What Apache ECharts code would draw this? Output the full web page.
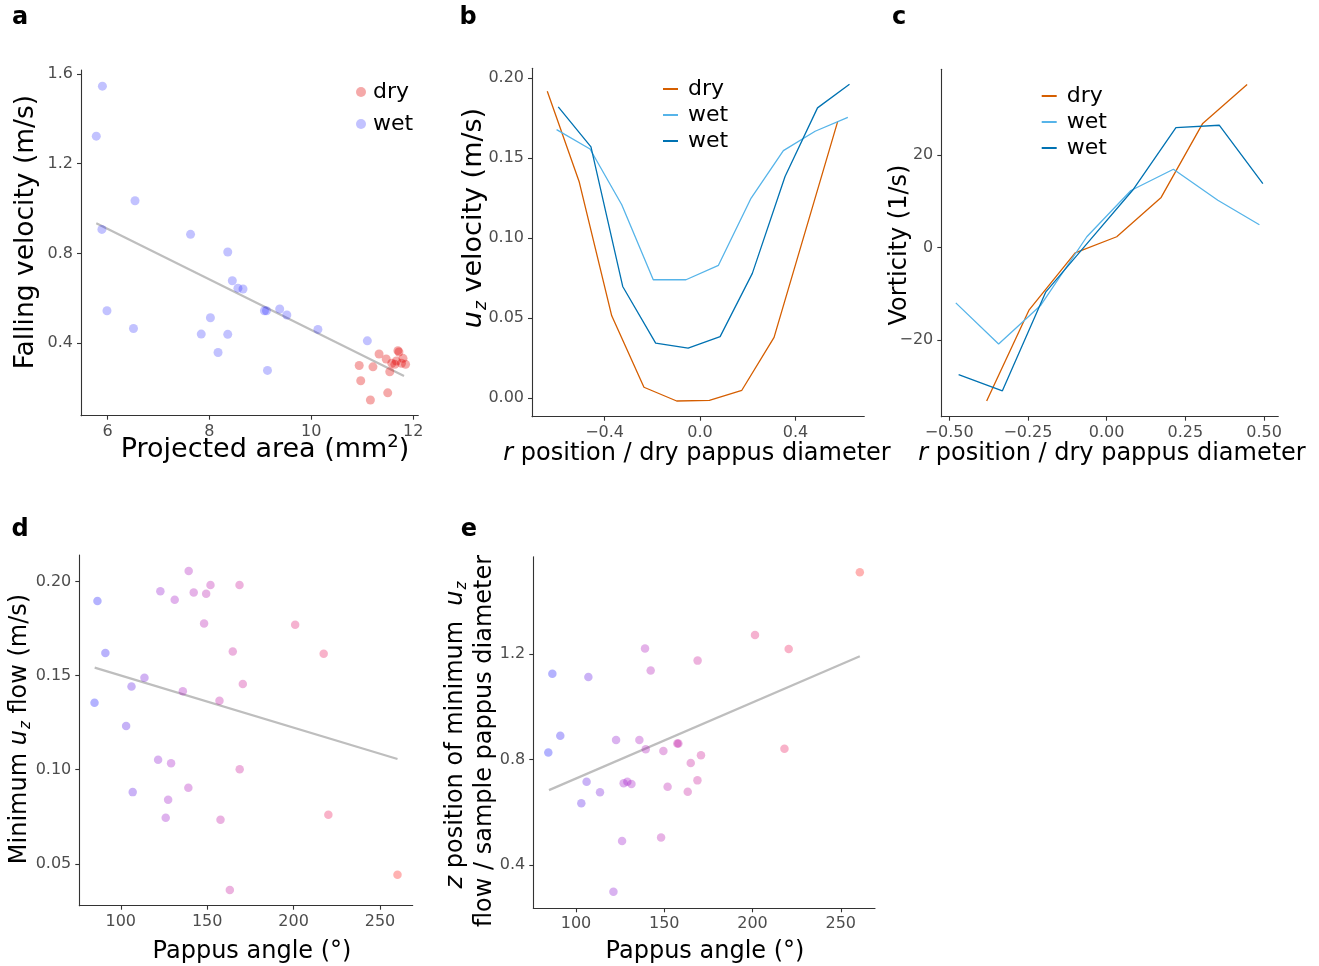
<!DOCTYPE html>
<html>
<head>
<meta charset="utf-8">
<script src="https://cdn.jsdelivr.net/npm/echarts@6/dist/echarts.min.js"></script>
<style>
html,body{margin:0;padding:0;background:#fff;}
#chart{width:1319px;height:966px;}
</style>
</head>
<body>
<div id="chart"></div>
<script>
// ---------- DATA ----------
// Panel a: falling velocity vs projected area
const aWetX = [5.90,5.78,6.54,5.89,7.63,8.36,8.45,8.56,8.66,5.99,9.08,9.12,9.38,9.52,6.51,8.02,7.84,8.36,8.17,10.13,11.10,9.14];
const aWetY = [1.546,1.323,1.035,0.907,0.885,0.806,0.678,0.645,0.641,0.544,0.544,0.544,0.552,0.525,0.465,0.513,0.440,0.439,0.358,0.461,0.410,0.278];
const aDryX = [11.33,10.94,11.21,11.47,11.70,11.72,11.58,11.64,11.67,11.77,11.85,11.80,11.54,10.97,11.50,11.16];
const aDryY = [0.351,0.300,0.294,0.329,0.366,0.360,0.310,0.305,0.320,0.310,0.305,0.332,0.272,0.232,0.178,0.146];
const aFitX = [5.78,11.82];
const aFitY = [0.934,0.253];
const aXTicks = [6,8,10,12];
const aYTicks = [0.4,0.8,1.2,1.6];

// Panel b: u_z velocity profiles
const bDryX = [-0.640,-0.506,-0.370,-0.235,-0.098,0.039,0.175,0.310,0.577];
const bDryY = [0.1917,0.135,0.0515,0.0069,-0.0017,-0.0013,0.005,0.038,0.173];
const bWet1X = [-0.601,-0.461,-0.328,-0.196,-0.059,0.077,0.214,0.349,0.482,0.619];
const bWet1Y = [0.1677,0.1556,0.1208,0.074,0.074,0.083,0.125,0.1546,0.1667,0.1754];
const bWet2X = [-0.594,-0.457,-0.324,-0.186,-0.050,0.084,0.219,0.356,0.492,0.626];
const bWet2Y = [0.1819,0.1569,0.0698,0.0344,0.0313,0.0385,0.078,0.1385,0.1813,0.196];
const bXTicks = [-0.4,0,0.4];
const bYTicks = [0,0.05,0.10,0.15,0.20];

// Panel c: vorticity profiles
const cDryX = [-0.381,-0.246,-0.100,0.032,0.173,0.305,0.446];
const cDryY = [-33.2,-13.5,-1.2,2.3,10.8,26.8,35.2];
const cWet1X = [-0.479,-0.343,-0.209,-0.063,0.077,0.212,0.353,0.485];
const cWet1Y = [-12.0,-20.9,-12.5,2.3,12.3,16.9,10.2,4.9];
const cWet2X = [-0.470,-0.331,-0.193,-0.055,0.083,0.220,0.358,0.496];
const cWet2Y = [-27.5,-31.0,-9.6,1.4,12.4,25.9,26.4,13.8];
const cXTicks = [-0.5,-0.25,0,0.25,0.5];
const cYTicks = [-20,0,20];

// Panel d: minimum u_z flow vs pappus angle
const dX = [86.5,91.1,84.8,103.1,106.2,113.7,106.9,122.9,131.2,139.3,142.2,149.4,151.9,168.7,148.2,135.9,157.1,164.8,170.6,121.6,129.1,168.8,139.1,127.4,126.0,157.7,163.1,200.9,217.4,220.1,260.1];
const dY = [0.1897,0.1621,0.1356,0.1232,0.1443,0.1489,0.0881,0.1949,0.1904,0.2057,0.1943,0.1936,0.1982,0.1982,0.1778,0.1418,0.1367,0.1629,0.1456,0.1053,0.1034,0.1003,0.0904,0.0840,0.0745,0.0734,0.0360,0.1771,0.1617,0.0761,0.0441];
const dFitX = [84.9,260.1];
const dFitY = [0.1543,0.1057];
const dXTicks = [100,150,200,250];
const dYTicks = [0.05,0.10,0.15,0.20];

// Panel e: z position of minimum u_z flow vs pappus angle
const eX = [84.3,86.6,91.1,103.0,106.0,107.0,113.6,121.2,122.7,126.1,127.0,129.1,131.4,135.9,139.1,139.5,142.3,148.2,149.5,151.9,157.4,158.0,163.3,165.0,168.9,168.8,170.8,201.4,218.1,220.5,260.8];
const eY = [0.827,1.125,0.890,0.634,0.716,1.113,0.676,0.299,0.874,0.491,0.710,0.716,0.707,0.874,1.221,0.839,1.138,0.504,0.832,0.697,0.861,0.861,0.678,0.787,1.175,0.721,0.816,1.272,0.841,1.219,1.510];
const eFitX = [84.7,260.8];
const eFitY = [0.684,1.192];
const eXTicks = [100,150,200,250];
const eYTicks = [0.4,0.8,1.2];

// ---------- HELPERS ----------
const FONT = 'DejaVu Sans';
const zip = (xs, ys) => xs.map((x, i) => [x, ys[i]]);
const minusFix = s => s.replace('-', '\u2212');
const fmt = d => v => minusFix(Number(v).toFixed(d));

function axis(grid, min, max, ticks, digits) {
  return {
    type: 'value', gridIndex: grid, min: min, max: max,
    splitLine: {show: false},
    axisLine: {show: true, onZero: false, lineStyle: {color: '#333', width: 1.1}},
    axisTick: {show: true, inside: false, length: 4, customValues: ticks, lineStyle: {color: '#333', width: 1.1}},
    axisLabel: {show: true, customValues: ticks, formatter: fmt(digits), color: '#4d4d4d',
      fontFamily: FONT, fontSize: 16, margin: 8}
  };
}

const gridBase = {containLabel: false, outerBoundsMode: 'none'};
const grids = [
  Object.assign({left: 81, top: 70, width: 337.3, height: 345.7}, gridBase),
  Object.assign({left: 532, top: 68.3, width: 332.3, height: 348.4}, gridBase),
  Object.assign({left: 941.3, top: 69.3, width: 337, height: 347.4}, gridBase),
  Object.assign({left: 79.3, top: 555, width: 333.4, height: 350.7}, gridBase),
  Object.assign({left: 533.3, top: 556.7, width: 341.7, height: 351.6}, gridBase)
];

const xAxes = [
  axis(0, 5.48, 12.1, aXTicks, 0),
  axis(1, -0.704, 0.688, bXTicks, 1),
  axis(2, -0.525, 0.545, cXTicks, 2),
  axis(3, 76.0, 268.9, dXTicks, 0),
  axis(4, 75.8, 269.4, eXTicks, 0)
];
const yAxes = [
  axis(0, 0.076, 1.618, aYTicks, 1),
  axis(1, -0.0115, 0.206, bYTicks, 2),
  axis(2, -36.6, 38.5, cYTicks, 0),
  axis(3, 0.0277, 0.2142, dYTicks, 2),
  axis(4, 0.236, 1.569, eYTicks, 1)
];

const ORANGE = '#D55E00', LBLUE = '#56B4E9', DBLUE = '#0072B2', FITC = '#bebebe';

function lineSeries(name, grid, data, color) {
  return {type: 'line', name: name, xAxisIndex: grid, yAxisIndex: grid, data: data,
    symbol: 'none', lineStyle: {color: color, width: 1.3}, itemStyle: {color: color}, silent: true};
}
function fitSeries(grid, data) {
  return {type: 'line', xAxisIndex: grid, yAxisIndex: grid, data: data, symbol: 'none',
    lineStyle: {color: FITC, width: 2.2}, silent: true, z: 1};
}

// legend names: panel a uses 'dry'/'wet'; profile panels use padded names (trimmed on display)
const PDRY = 'dry ', PWET1 = 'wet  ', PWET2 = 'wet   ';

const series = [
  {type: 'scatter', name: 'dry', xAxisIndex: 0, yAxisIndex: 0, data: zip(aDryX, aDryY), symbolSize: 9,
    itemStyle: {color: 'rgba(225,0,0,0.42)'}, z: 3},
  {type: 'scatter', name: 'wet', xAxisIndex: 0, yAxisIndex: 0, data: zip(aWetX, aWetY), symbolSize: 9,
    itemStyle: {color: 'rgba(20,20,255,0.32)'}, z: 3},
  fitSeries(0, zip(aFitX, aFitY)),
  lineSeries(PDRY, 1, zip(bDryX, bDryY), ORANGE),
  lineSeries(PWET1, 1, zip(bWet1X, bWet1Y), LBLUE),
  lineSeries(PWET2, 1, zip(bWet2X, bWet2Y), DBLUE),
  lineSeries(PDRY, 2, zip(cDryX, cDryY), ORANGE),
  lineSeries(PWET1, 2, zip(cWet1X, cWet1Y), LBLUE),
  lineSeries(PWET2, 2, zip(cWet2X, cWet2Y), DBLUE),
  {type: 'scatter', xAxisIndex: 3, yAxisIndex: 3, data: zip(dX, dY), symbolSize: 8.5,
    itemStyle: {opacity: 0.3}, z: 3},
  fitSeries(3, zip(dFitX, dFitY)),
  {type: 'scatter', xAxisIndex: 4, yAxisIndex: 4, data: zip(eX, eY), symbolSize: 8.5,
    itemStyle: {opacity: 0.3}, z: 3},
  fitSeries(4, zip(eFitX, eFitY))
];

const angleMin = Math.min(...dX, ...eX), angleMax = Math.max(...dX, ...eX);
const gradient = ['#0000ff', '#9a00c3', '#c90089', '#e80050', '#ff0000'];

const legendText = {color: '#000', fontFamily: FONT, fontSize: 22};
const legends = [
  {data: ['dry','wet'], orient: 'vertical', left: 351, top: 76, itemWidth: 10, itemHeight: 10,
    itemGap: 10, icon: 'circle', selectedMode: false, textStyle: Object.assign({padding: [0,0,0,2]}, legendText)},
  {data: [PDRY, PWET1, PWET2], orient: 'vertical', left: 658, top: 73, itemWidth: 15, itemHeight: 2,
    itemGap: 4, icon: 'rect', selectedMode: false, textStyle: Object.assign({padding: [0,0,0,5]}, legendText),
    formatter: n => n.trim()},
  {data: [PDRY, PWET1, PWET2], orient: 'vertical', left: 1036.7, top: 80, itemWidth: 15, itemHeight: 2,
    itemGap: 4, icon: 'rect', selectedMode: false, textStyle: Object.assign({padding: [0,0,0,5]}, legendText),
    formatter: n => n.trim()}
];

// ---------- TEXT (titles, panel letters) ----------
function title(x, y, text, size, rich, rot) {
  return {type: 'text', x: x, y: y, rotation: rot ? Math.PI / 2 : 0, silent: true,
    style: {text: text, rich: rich || {}, fontFamily: FONT, fontSize: size, fill: '#000',
      align: 'center', verticalAlign: 'middle', textAlign: 'center', textVerticalAlign: 'middle'}};
}
function richFor(size) {
  return {
    i: {fontFamily: FONT, fontSize: size, fontStyle: 'italic', fill: '#000'},
    sub: {fontFamily: FONT, fontSize: Math.round(size * 0.63), fontStyle: 'italic', fill: '#000',
      padding: [Math.round(size * 0.54), 0, 0, 1]},
    sup: {fontFamily: FONT, fontSize: Math.round(size * 0.66), fill: '#000',
      padding: [0, 0, Math.round(size * 0.58), 0]}
  };
}
function letter(x, y, t) {
  return {type: 'text', x: x, y: y, silent: true,
    style: {text: t, fontFamily: FONT, fontSize: 24, fontWeight: 'bold', fill: '#000',
      align: 'center', verticalAlign: 'middle', textAlign: 'center', textVerticalAlign: 'middle'}};
}

const graphics = [
  letter(20, 18, 'a'), letter(468, 18, 'b'), letter(899, 18, 'c'), letter(20, 530, 'd'), letter(469, 530, 'e'),
  title(26, 232, 'Falling velocity (m/s)', 26.5, null, true),
  title(265, 450, 'Projected area (mm{sup|2})', 27, richFor(27), false),
  title(474, 218, '{i|u}{sub|z} velocity (m/s)', 27, richFor(27), true),
  title(697, 454, '{i|r} position / dry pappus diameter', 24, richFor(24), false),
  title(900, 245, 'Vorticity (1/s)', 24, null, true),
  title(1112, 454, '{i|r} position / dry pappus diameter', 24, richFor(24), false),
  title(20, 729, 'Minimum {i|u}{sub|z} flow (m/s)', 24, richFor(24), true),
  title(252, 952, 'Pappus angle (°)', 24, null, false),
  title(456, 735, '{i|z} position of minimum  {i|u}{sub|z}', 24, richFor(24), true),
  title(485, 741, 'flow / sample pappus diameter', 24, null, true),
  title(705, 952, 'Pappus angle (°)', 24, null, false)
];

const chart = echarts.init(document.getElementById('chart'), null, {renderer: 'canvas'});
chart.setOption({
  animation: false,
  backgroundColor: '#fff',
  grid: grids,
  xAxis: xAxes,
  yAxis: yAxes,
  legend: legends,
  visualMap: [{type: 'continuous', show: false, seriesIndex: [9, 11], dimension: 0,
    min: angleMin, max: angleMax, inRange: {color: gradient}}],
  series: series,
  graphic: {elements: graphics}
});
</script>
</body>
</html>
